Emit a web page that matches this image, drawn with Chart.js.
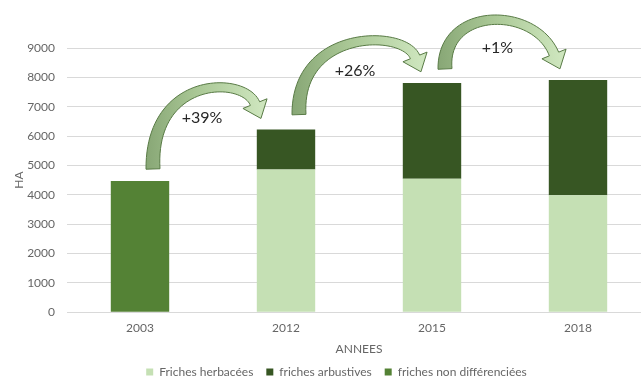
<!DOCTYPE html>
<html>
<head>
<meta charset="utf-8">
<script src="https://cdn.jsdelivr.net/npm/chart.js@4/dist/chart.umd.min.js"></script>
<style>
  html, body { margin: 0; padding: 0; background: #fff; overflow: hidden; }
  #wrap { width: 682px; height: 376px; }
</style>
</head>
<body>
<div id="wrap"><canvas id="friches-chart"></canvas></div>
<script>
// surfaces en friche (ha) par année
const years = ['2003', '2012', '2015', '2018'];
const herbacees = [null, 4860, 4550, 3980];
const arbustives = [null, 1360, 3260, 3930];
const nonDifferenciees = [4470, null, null, null];

const totals = years.map((_, i) =>
  (herbacees[i] || 0) + (arbustives[i] || 0) + (nonDifferenciees[i] || 0));

// evolution between consecutive years, shown on the curved arrows
const evolutions = totals.slice(1).map((t, i) =>
  '+' + Math.round((t - totals[i]) / totals[i] * 100) + '%');

// per-arrow placement tweaks (px, relative to the bar tops)
const arrowTweaks = [
  { tailDy: -12, baseDx: -31, lift: 28 },
  { tailDy: -15, baseDx: -17, lift: 28 },
  { tailDy: -14, baseDx: -24, lift: 48 }
];

function drawCurvedArrow(ctx, tail, base, lift) {
  const top = Math.min(tail.y, base.y) - lift;
  const p0 = tail;
  const p1 = { x: tail.x - 3, y: top };
  const p2 = { x: base.x - 0.4 * (base.y - top), y: top };
  const p3 = base;

  const point = t => {
    const a = (1 - t) ** 3, b = 3 * (1 - t) ** 2 * t, c = 3 * (1 - t) * t * t, d = t ** 3;
    return { x: a * p0.x + b * p1.x + c * p2.x + d * p3.x,
             y: a * p0.y + b * p1.y + c * p2.y + d * p3.y };
  };
  const tangent = t => {
    const a = 3 * (1 - t) ** 2, b = 6 * (1 - t) * t, c = 3 * t * t;
    const x = a * (p1.x - p0.x) + b * (p2.x - p1.x) + c * (p3.x - p2.x);
    const y = a * (p1.y - p0.y) + b * (p2.y - p1.y) + c * (p3.y - p2.y);
    const len = Math.hypot(x, y) || 1;
    return { x: x / len, y: y / len };
  };

  // band is wide at the tail, thin over the top, a bit wider before the head
  const N = 48;
  const sideA = [], sideB = [];
  for (let i = 0; i <= N; i++) {
    const t = i / N;
    const p = point(t);
    const d = tangent(t);
    const n = { x: -d.y, y: d.x };
    const w = (7 + 7 * (1 - t) ** 2 + 3 * t * t) / 2;
    sideA.push({ x: p.x + n.x * w, y: p.y + n.y * w });
    sideB.push({ x: p.x - n.x * w, y: p.y - n.y * w });
  }
  const d = tangent(1);
  const n = { x: -d.y, y: d.x };
  const headHalf = 13, headLen = 16;
  const tip = { x: base.x + d.x * headLen, y: base.y + d.y * headLen };

  ctx.save();
  ctx.beginPath();
  sideA.forEach((p, i) => i ? ctx.lineTo(p.x, p.y) : ctx.moveTo(p.x, p.y));
  ctx.lineTo(base.x + n.x * headHalf, base.y + n.y * headHalf);
  ctx.lineTo(tip.x, tip.y);
  ctx.lineTo(base.x - n.x * headHalf, base.y - n.y * headHalf);
  for (let i = sideB.length - 1; i >= 0; i--) ctx.lineTo(sideB[i].x, sideB[i].y);
  ctx.closePath();
  const grad = ctx.createLinearGradient(tail.x - 10, 0, tip.x, 0);
  grad.addColorStop(0, '#86a574');
  grad.addColorStop(0.45, '#a9c795');
  grad.addColorStop(1, '#cde5bd');
  ctx.fillStyle = grad;
  ctx.fill();
  ctx.lineWidth = 1;
  ctx.strokeStyle = '#587a45';
  ctx.stroke();
  ctx.restore();

  return { top, tip };
}

const arrowPlugin = {
  id: 'evolutionArrows',
  afterDatasetsDraw(chart) {
    const { ctx, scales: { x, y } } = chart;
    for (let i = 0; i < evolutions.length; i++) {
      const tw = arrowTweaks[i];
      const tail = { x: x.getPixelForValue(i) + 13, y: y.getPixelForValue(totals[i]) + tw.tailDy };
      const base = { x: x.getPixelForValue(i + 1) + tw.baseDx, y: y.getPixelForValue(totals[i + 1]) - 26 };
      const { top, tip } = drawCurvedArrow(ctx, tail, base, tw.lift);

      ctx.save();
      ctx.font = '16px Lato';
      ctx.fillStyle = '#262626';
      ctx.textAlign = 'center';
      ctx.textBaseline = 'middle';
      ctx.fillText(evolutions[i], (tail.x + tip.x) / 2 - 5, top + 42);
      ctx.restore();
    }
  }
};

// the legend is centred on the whole figure, not on the plot box
const legendShift = {
  id: 'legendShift',
  afterLayout(chart) {
    chart.legend.left += 11;
    chart.legend.right += 11;
  }
};

Chart.defaults.font.family = 'Lato';
Chart.defaults.color = '#666666';

new Chart(document.getElementById('friches-chart'), {
  type: 'bar',
  data: {
    labels: years,
    datasets: [
      { label: 'Friches herbacées', data: herbacees, backgroundColor: '#c5e0b4' },
      { label: 'friches arbustives', data: arbustives, backgroundColor: '#375623' },
      { label: 'friches non différenciées', data: nonDifferenciees, backgroundColor: '#548235' }
    ]
  },
  options: {
    responsive: true,
    maintainAspectRatio: false,
    animation: false,
    datasets: { bar: { categoryPercentage: 1, barPercentage: 0.4 } },
    layout: { padding: { top: 48, right: 31, left: 0, bottom: -12 } },
    plugins: {
      tooltip: { enabled: false },
      legend: {
        position: 'bottom',
        labels: { boxWidth: 7, boxHeight: 7, padding: 13, font: { size: 12 } }
      }
    },
    scales: {
      x: {
        stacked: true,
        grid: { display: false, drawTicks: false },
        border: { color: '#d9d9d9' },
        ticks: { padding: 9, font: { size: 12 } },
        title: { display: true, text: 'ANNEES', font: { size: 12 }, padding: { top: -3, bottom: -3 } }
      },
      y: {
        stacked: true,
        min: 0,
        max: 9000,
        afterFit: scale => { scale.width = 67; },
        grid: { color: '#d9d9d9', drawTicks: false, tickLength: 0 },
        border: { display: false },
        ticks: { stepSize: 1000, padding: 12, font: { size: 12 }, callback: v => String(v) },
        title: { display: true, text: 'HA', font: { size: 12 }, padding: { top: 12, bottom: 0 } }
      }
    }
  },
  plugins: [arrowPlugin, legendShift]
});
</script>
</body>
</html>
